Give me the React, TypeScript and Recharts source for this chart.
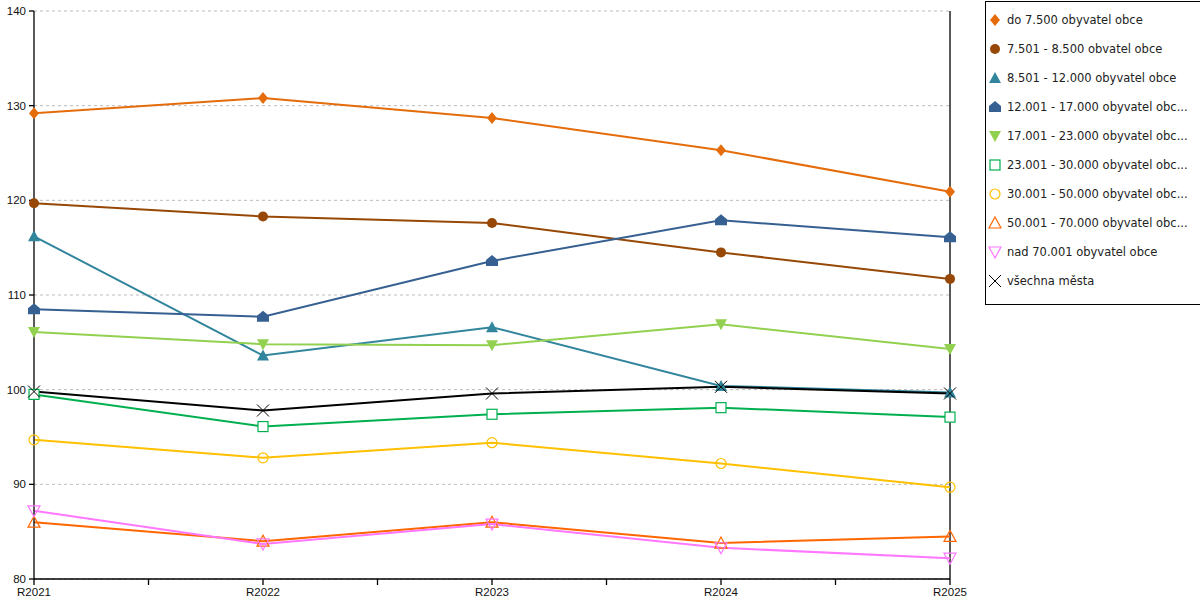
import React from "react";
import { LineChart, Line, XAxis, YAxis, CartesianGrid, ReferenceLine } from "recharts";

const YEARS = ["R2021", "R2022", "R2023", "R2024", "R2025"];
const Y_TICKS = [80, 90, 100, 110, 120, 130, 140];

const do7500 = [129.2, 130.8, 128.7, 125.3, 120.9];
const od7501 = [119.7, 118.3, 117.6, 114.5, 111.7];
const od8501 = [116.2, 103.6, 106.6, 100.4, 99.7];
const od12001 = [108.5, 107.7, 113.6, 117.9, 116.1];
const od17001 = [106.1, 104.8, 104.7, 106.9, 104.3];
const od23001 = [99.5, 96.1, 97.4, 98.1, 97.1];
const od30001 = [94.7, 92.8, 94.4, 92.2, 89.7];
const od50001 = [86.0, 84.0, 86.0, 83.8, 84.5];
const nad70001 = [87.2, 83.7, 85.8, 83.3, 82.2];
const vsechna = [99.8, 97.8, 99.6, 100.3, 99.6];

type Shape = "diamond" | "circle" | "tri" | "house" | "triDown" | "square" | "ring" | "triOpen" | "triDownOpen" | "cross";

const SERIES: { key: string; name: string; values: number[]; color: string; shape: Shape }[] = [
  { key: "s1", name: "do 7.500 obyvatel obce", values: do7500, color: "#E46C0A", shape: "diamond" },
  { key: "s2", name: "7.501 - 8.500 obvatel obce", values: od7501, color: "#974806", shape: "circle" },
  { key: "s3", name: "8.501 - 12.000 obyvatel obce", values: od8501, color: "#31859C", shape: "tri" },
  { key: "s4", name: "12.001 - 17.000 obyvatel obce", values: od12001, color: "#376092", shape: "house" },
  { key: "s5", name: "17.001 - 23.000 obyvatel obce", values: od17001, color: "#92D050", shape: "triDown" },
  { key: "s6", name: "23.001 - 30.000 obyvatel obce", values: od23001, color: "#00B050", shape: "square" },
  { key: "s7", name: "30.001 - 50.000 obyvatel obce", values: od30001, color: "#FFC000", shape: "ring" },
  { key: "s8", name: "50.001 - 70.000 obyvatel obce", values: od50001, color: "#FF6600", shape: "triOpen" },
  { key: "s9", name: "nad 70.001 obyvatel obce", values: nad70001, color: "#FF77FF", shape: "triDownOpen" },
  { key: "s10", name: "všechna města", values: vsechna, color: "#000000", shape: "cross" },
];

const data = YEARS.map((_, i) => {
  const row: Record<string, number> = { x: i };
  SERIES.forEach((s) => (row[s.key] = s.values[i]));
  return row;
});

function Marker({ shape, color, cx, cy }: { shape: Shape; color: string; cx: number; cy: number }) {
  const sw = 1.2;
  switch (shape) {
    case "diamond":
      return <polygon points={`${cx},${cy - 6} ${cx + 5},${cy} ${cx},${cy + 6} ${cx - 5},${cy}`} fill={color} />;
    case "circle":
      return <circle cx={cx} cy={cy} r={5} fill={color} />;
    case "tri":
      return <polygon points={`${cx},${cy - 6} ${cx + 6},${cy + 5} ${cx - 6},${cy + 5}`} fill={color} />;
    case "house":
      return (
        <polygon
          points={`${cx},${cy - 6} ${cx + 6},${cy - 1} ${cx + 6},${cy + 5} ${cx - 6},${cy + 5} ${cx - 6},${cy - 1}`}
          fill={color}
        />
      );
    case "triDown":
      return <polygon points={`${cx - 6},${cy - 5} ${cx + 6},${cy - 5} ${cx},${cy + 6}`} fill={color} />;
    case "square":
      return <rect x={cx - 5} y={cy - 5} width={10} height={10} fill="#fff" stroke={color} strokeWidth={sw} />;
    case "ring":
      return <circle cx={cx} cy={cy} r={5} fill="none" stroke={color} strokeWidth={sw} />;
    case "triOpen":
      return <polygon points={`${cx},${cy - 6} ${cx + 6},${cy + 5} ${cx - 6},${cy + 5}`} fill="none" stroke={color} strokeWidth={sw} />;
    case "triDownOpen":
      return <polygon points={`${cx - 6},${cy - 5} ${cx + 6},${cy - 5} ${cx},${cy + 6}`} fill="none" stroke={color} strokeWidth={sw} />;
    case "cross":
      return (
        <g stroke={color} strokeWidth={1}>
          <line x1={cx - 6} y1={cy - 6} x2={cx + 6} y2={cy + 6} />
          <line x1={cx - 6} y1={cy + 6} x2={cx + 6} y2={cy - 6} />
        </g>
      );
  }
}

// legend cuts long names like the original does
const shortName = (n: string) => (n.length > 28 ? n.slice(0, 28) + "..." : n);

const axisFont = { fontFamily: "'Liberation Sans', Arial, sans-serif", fontSize: 11.5, fill: "#111" };
const blackLine = { stroke: "#000", strokeWidth: 1.3 };

export default function App() {
  return (
    <div style={{ position: "absolute", left: 0, top: 0, width: 1200, height: 600, background: "#fff" }}>
      <LineChart width={1200} height={600} data={data} margin={{ top: 11, right: 250, bottom: 0, left: 0 }}>
        <CartesianGrid vertical={false} stroke="#bbb" strokeDasharray="3 3" />
        <XAxis
          dataKey="x"
          type="number"
          domain={[0, 4]}
          ticks={[0, 0.5, 1, 1.5, 2, 2.5, 3, 3.5, 4]}
          interval={0}
          tickFormatter={(v: number) => (Number.isInteger(v) ? YEARS[v] : "")}
          height={21}
          tickSize={6}
          tickMargin={3}
          axisLine={blackLine}
          tickLine={blackLine}
          tick={axisFont}
        />
        <YAxis
          domain={[80, 140]}
          ticks={Y_TICKS}
          width={34}
          tickSize={5}
          tickMargin={3}
          axisLine={blackLine}
          tickLine={blackLine}
          tick={axisFont}
        />
        <ReferenceLine x={4} stroke="#000" strokeWidth={1.3} />
        {SERIES.map((s) => (
          <Line
            key={s.key}
            dataKey={s.key}
            name={s.name}
            type="linear"
            stroke={s.color}
            strokeWidth={2}
            isAnimationActive={false}
            activeDot={false}
            dot={(p: any) => <Marker key={`${s.key}-${p.index}`} shape={s.shape} color={s.color} cx={p.cx} cy={p.cy} />}
          />
        ))}
      </LineChart>
      <div
        style={{
          position: "absolute",
          left: 985,
          top: 1,
          width: 212,
          height: 296,
          border: "1px solid #000",
          padding: "3px 0 3px 2px",
          boxSizing: "content-box",
          fontFamily: "'DejaVu Sans', Verdana, sans-serif",
          fontSize: 11.5,
          color: "#222",
          background: "#fff",
        }}
      >
        {SERIES.map((s) => (
          <div key={s.key} style={{ display: "flex", alignItems: "center", height: 29, whiteSpace: "nowrap" }}>
            <svg width={14} height={14} style={{ marginRight: 5, flex: "none" }}>
              <Marker shape={s.shape} color={s.color} cx={7} cy={7} />
            </svg>
            <span>{shortName(s.name)}</span>
          </div>
        ))}
      </div>
    </div>
  );
}
